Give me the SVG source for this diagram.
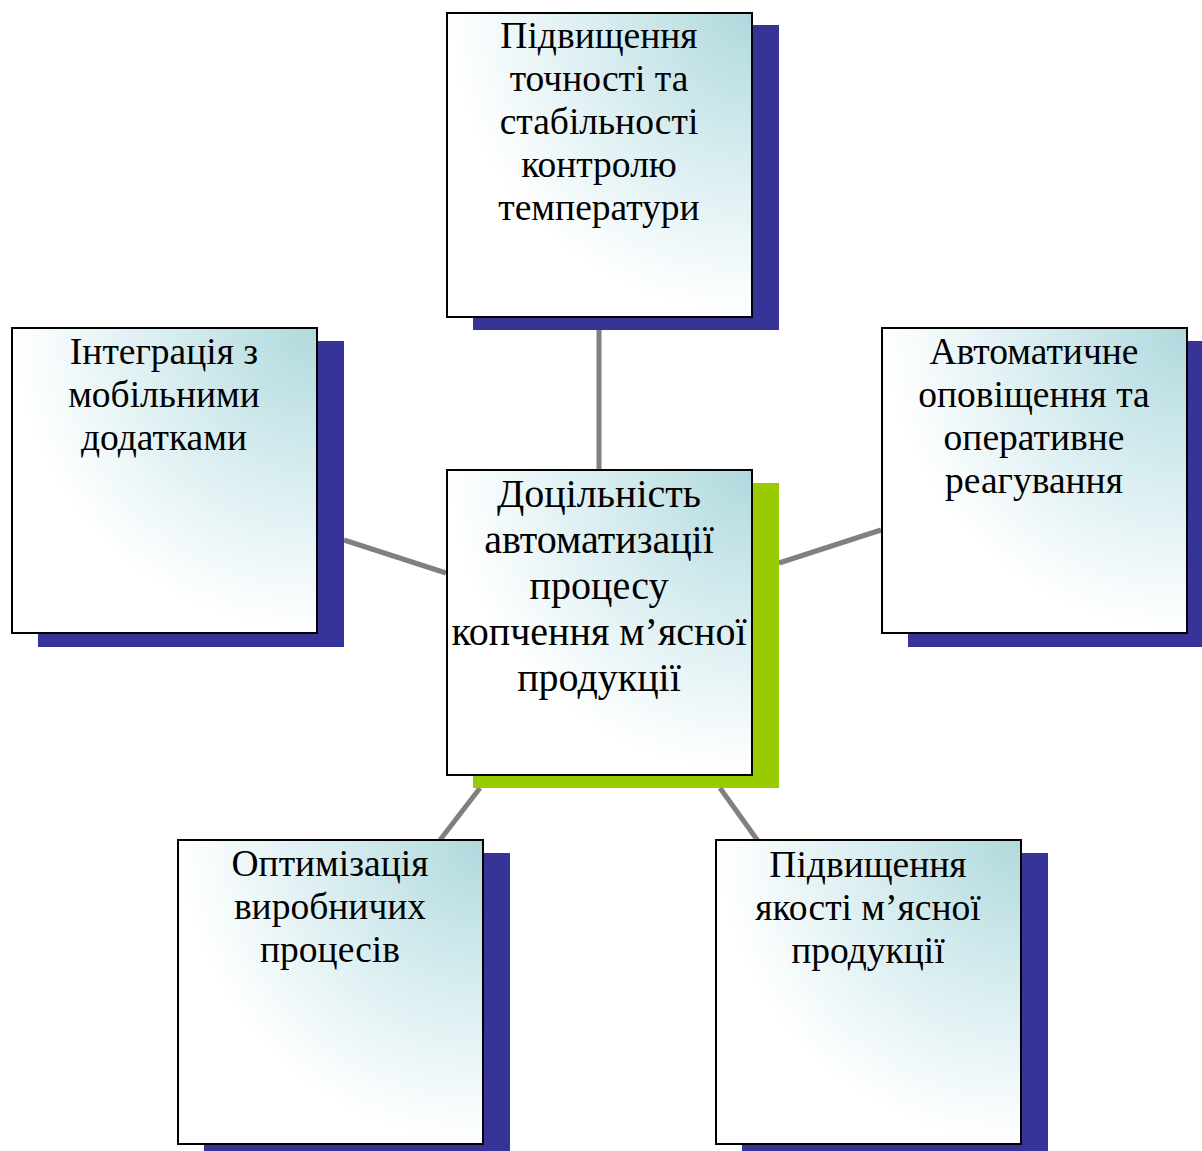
<svg xmlns="http://www.w3.org/2000/svg" width="1202" height="1151" viewBox="0 0 1202 1151">
  <defs>
    <radialGradient id="boxFill" cx="1" cy="0" r="1.1" fx="1" fy="0">
      <stop offset="0" stop-color="#b0d9dd"/>
      <stop offset="0.45" stop-color="#d8edf0"/>
      <stop offset="0.9" stop-color="#ffffff"/>
    </radialGradient>
    <style>
      .shadow { fill: #363399; }
      .shadow-main { fill: #99cc00; }
      .box { fill: url(#boxFill); stroke: #000000; stroke-width: 2; }
      .label { font-family: "Liberation Serif", "Times New Roman", serif; font-size: 37.5px; fill: #000000; text-anchor: middle; }
      .label-main { font-size: 40px; }
      .link { stroke: #808080; stroke-width: 5; fill: none; }
    </style>
  </defs>
  <rect width="1202" height="1151" fill="#ffffff"/>

  <!-- spokes from the central box to each satellite -->
  <g id="connectors">
    <line class="link" x1="599" y1="317" x2="599" y2="469"/>
    <line class="link" x1="344" y1="540" x2="446" y2="573"/>
    <line class="link" x1="779" y1="563" x2="881" y2="530"/>
    <line class="link" x1="480" y1="788" x2="440" y2="840"/>
    <line class="link" x1="720" y1="788" x2="758" y2="841"/>
  </g>

  <!-- tspans are kept adjacent so no collapsed space shifts the centred lines -->
  <g id="node-top">
    <rect class="shadow" x="473" y="25" width="306" height="305"/>
    <rect class="box" x="447" y="13" width="305" height="304"/>
    <text class="label"><tspan x="599" y="48">Підвищення</tspan><tspan x="599" y="91">точності та</tspan><tspan x="599" y="134">стабільності</tspan><tspan x="599" y="177">контролю</tspan><tspan x="599" y="220">температури</tspan></text>
  </g>

  <g id="node-left">
    <rect class="shadow" x="38" y="341" width="306" height="306"/>
    <rect class="box" x="12" y="328" width="305" height="305"/>
    <text class="label"><tspan x="164" y="364">Інтеграція з</tspan><tspan x="164" y="407">мобільними</tspan><tspan x="164" y="450">додатками</tspan></text>
  </g>

  <g id="node-right">
    <rect class="shadow" x="908" y="341" width="306" height="306"/>
    <rect class="box" x="882" y="328" width="305" height="305"/>
    <text class="label"><tspan x="1034" y="364">Автоматичне</tspan><tspan x="1034" y="407">оповіщення та</tspan><tspan x="1034" y="450">оперативне</tspan><tspan x="1034" y="493">реагування</tspan></text>
  </g>

  <g id="node-center">
    <rect class="shadow-main" x="473" y="483" width="306" height="305"/>
    <rect class="box" x="447" y="470" width="305" height="305"/>
    <text class="label label-main"><tspan x="599" y="507">Доцільність</tspan><tspan x="599" y="553">автоматизації</tspan><tspan x="599" y="599">процесу</tspan><tspan x="599" y="645">копчення м’ясної</tspan><tspan x="599" y="691">продукції</tspan></text>
  </g>

  <g id="node-bottom-left">
    <rect class="shadow" x="204" y="853" width="306" height="306"/>
    <rect class="box" x="178" y="840" width="305" height="304"/>
    <text class="label"><tspan x="330" y="876">Оптимізація</tspan><tspan x="330" y="919">виробничих</tspan><tspan x="330" y="962">процесів</tspan></text>
  </g>

  <g id="node-bottom-right">
    <rect class="shadow" x="742" y="853" width="306" height="306"/>
    <rect class="box" x="716" y="840" width="305" height="304"/>
    <text class="label"><tspan x="868" y="877">Підвищення</tspan><tspan x="868" y="920">якості м’ясної</tspan><tspan x="868" y="963">продукції</tspan></text>
  </g>
</svg>
